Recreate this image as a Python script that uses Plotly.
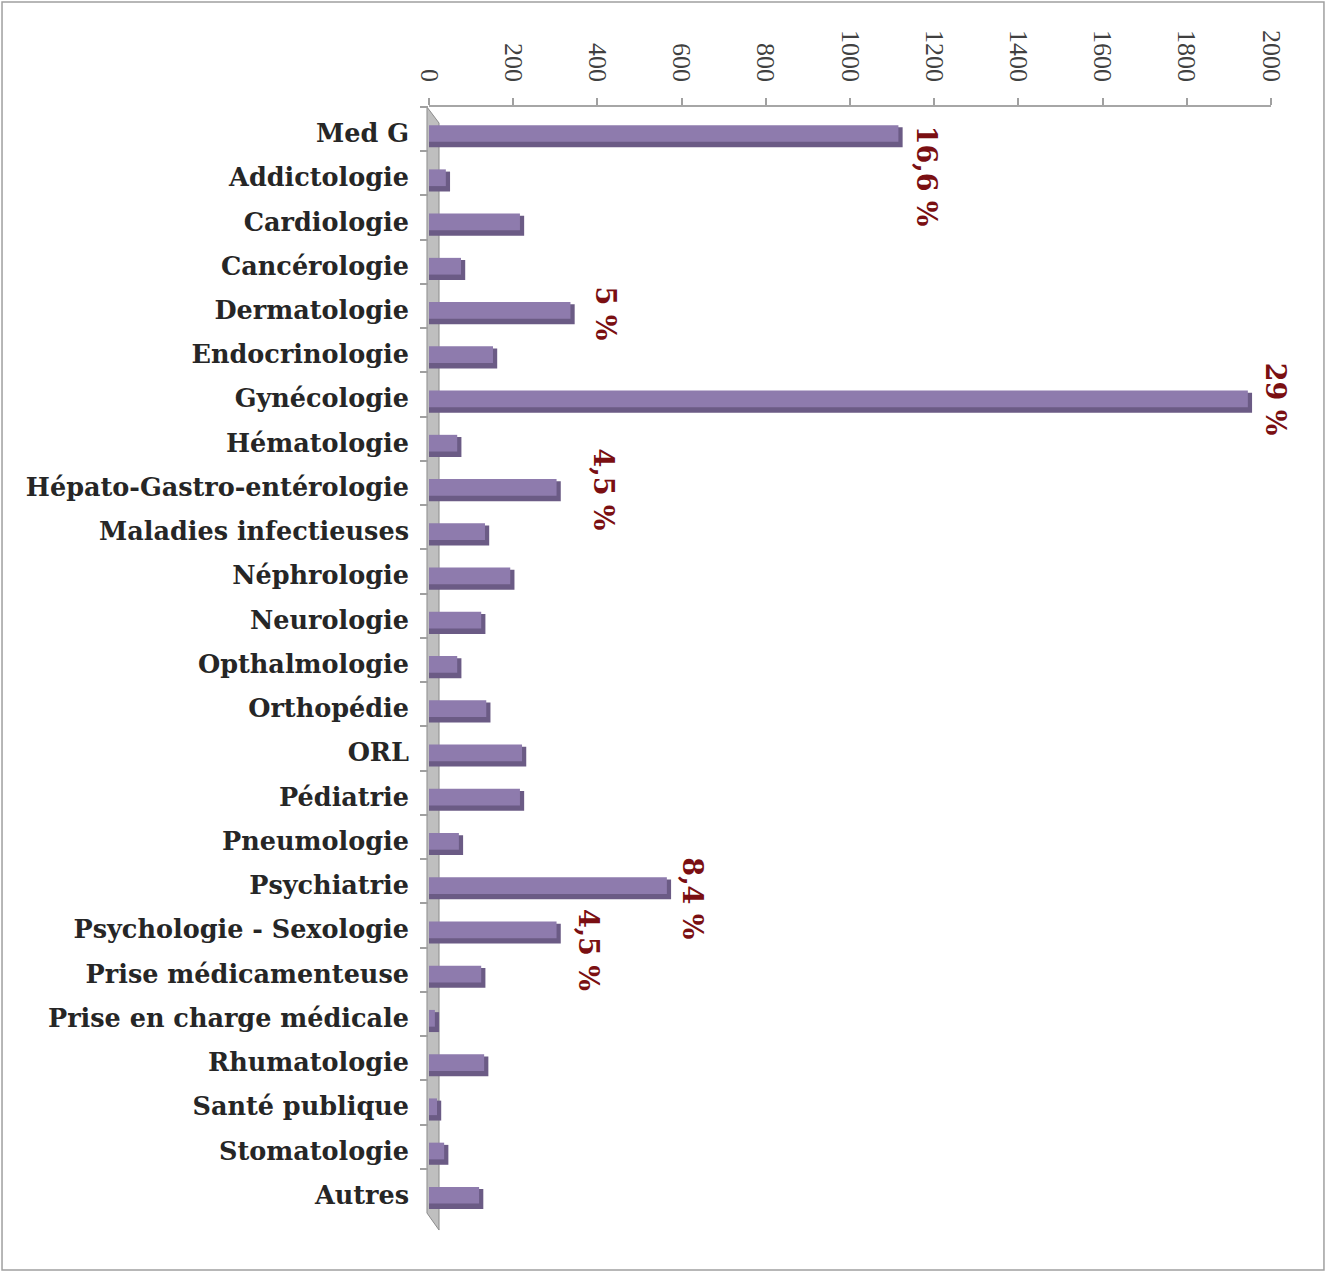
import plotly.graph_objects as go

categories = ["Med G", "Addictologie", "Cardiologie", "Cancérologie", "Dermatologie",
              "Endocrinologie", "Gynécologie", "Hématologie", "Hépato-Gastro-entérologie",
              "Maladies infectieuses", "Néphrologie", "Neurologie", "Opthalmologie",
              "Orthopédie", "ORL", "Pédiatrie", "Pneumologie", "Psychiatrie",
              "Psychologie - Sexologie", "Prise médicamenteuse", "Prise en charge médicale",
              "Rhumatologie", "Santé publique", "Stomatologie", "Autres"]
values = [1115, 40, 216, 76, 336, 152, 1945, 67, 303, 133, 193, 124, 67, 136, 221,
          216, 71, 565, 303, 124, 14, 131, 19, 36, 119]

pct_categories = ["Med G", "Dermatologie", "Gynécologie", "Hépato-Gastro-entérologie",
                  "Psychiatrie", "Psychologie - Sexologie"]
pct_texts = ["16,6 %", "5 %", "29 %", "4,5 %", "8,4 %", "4,5 %"]

x_ticks = [0, 200, 400, 600, 800, 1000, 1200, 1400, 1600, 1800, 2000]

# label pixel shifts (style)
pct_shift = {"Med G": (28, -47), "Dermatologie": (35, -8), "Gynécologie": (28, -5),
             "Hépato-Gastro-entérologie": (47, -6), "Psychiatrie": (26, -17),
             "Psychologie - Sexologie": (32, -24)}

LIGHT = "#8E7BAD"
DARK = "#6B5B85"
depth = 10

fig = go.Figure()
fig.add_trace(go.Bar(
    y=categories, x=[v + depth for v in values], orientation="h",
    marker=dict(color=DARK, line=dict(width=0)), width=0.45, offset=-0.04,
    hoverinfo="skip", showlegend=False))
fig.add_trace(go.Bar(
    y=categories, x=values, orientation="h",
    marker=dict(color=LIGHT, line=dict(width=0)), width=0.378, offset=-0.09,
    showlegend=False))

val_map = dict(zip(categories, values))
for cat, txt in zip(pct_categories, pct_texts):
    dx, dy = pct_shift[cat]
    fig.add_annotation(x=val_map[cat], y=cat, text=txt, showarrow=False,
                       textangle=90, xanchor="center", yanchor="middle",
                       xshift=dx, yshift=dy,
                       font=dict(family="DejaVu Serif", size=27, color="#7A0F12",
                                 weight="bold"))

# 3D side wall
fig.add_shape(type="path", xref="paper", yref="paper",
              path="M -0.0024 1.0 L 0.0119 0.9855 L 0.0119 -0.0154 L -0.0024 0.0 Z",
              fillcolor="#BFBFBF", line=dict(color="#8C8C8C", width=1), layer="below")
# outer border
fig.add_shape(type="rect", xref="paper", yref="paper",
              x0=-0.5071, x1=1.0629, y0=-0.0515, y1=1.0949,
              line=dict(color="#A0A0A0", width=1.5), fillcolor="rgba(0,0,0,0)")

fig.update_layout(
    width=1326, height=1272,
    margin=dict(l=429, r=55, t=107, b=59),
    paper_bgcolor="white", plot_bgcolor="white",
    barmode="overlay", bargap=0.5,
    xaxis=dict(side="top", range=[0, 2000], tickvals=x_ticks,
               ticktext=[str(t) for t in x_ticks], tickangle=90,
               ticks="outside", ticklen=7, tickcolor="#A0A0A0", tickwidth=1.5,
               showline=True, linecolor="#A6A6A6", linewidth=2,
               showgrid=False, zeroline=False, ticklabelstandoff=7,
               tickfont=dict(family="Liberation Serif", size=26, color="#404040")),
    yaxis=dict(type="category", categoryorder="array", categoryarray=categories,
               range=[24.5, -0.5], ticks="outside", tickson="boundaries",
               ticklen=8, tickcolor="#A0A0A0", tickwidth=1.5,
               showline=False, showgrid=False, zeroline=False,
               ticklabelstandoff=19, ticklabelshift=-4,
               tickfont=dict(family="DejaVu Serif", size=25.5, color="#262626",
                             weight="bold")),
)

fig.write_html("out.html", config={"displayModeBar": False},
               post_script="document.body.style.margin='0';document.body.style.overflow='hidden';")
